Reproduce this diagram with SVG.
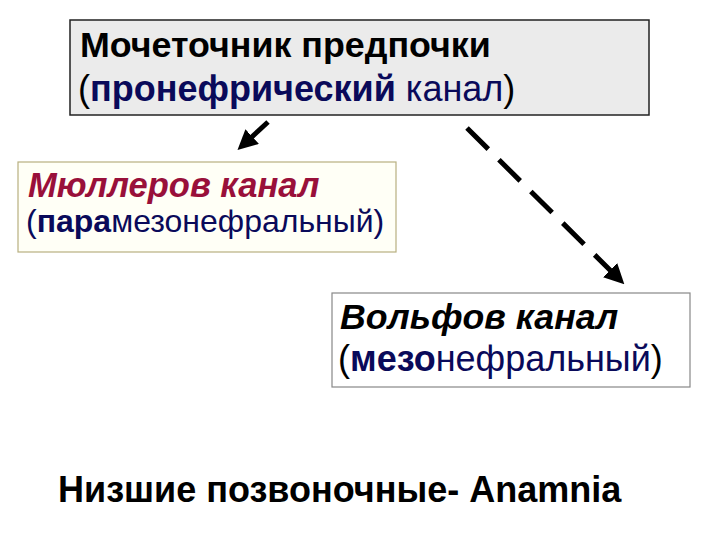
<svg xmlns="http://www.w3.org/2000/svg" width="720" height="540" viewBox="0 0 720 540">
<defs>
<style>
text{font-family:"Liberation Sans",Arial,sans-serif;}
.b{font-weight:bold;}
.bi{font-weight:bold;font-style:italic;}
.navy{fill:#0a0a5a;}
.line{stroke:#000;stroke-width:5;fill:none;}
</style>
<marker id="ah" markerWidth="4" markerHeight="4" refX="2.5" refY="2" orient="auto" markerUnits="strokeWidth">
<path d="M0,0 L4,2 L0,4 z" fill="#000"/>
</marker>
</defs>
<rect width="720" height="540" fill="#fff"/>
<g id="node-pronephros">
<rect x="70" y="20" width="579" height="95" fill="#ebebeb" stroke="#222" stroke-width="1.5"/>
<text x="80" y="57" font-size="35.8" class="b" fill="#000">Мочеточник предпочки</text>
<text x="78" y="101" font-size="36"><tspan fill="#000">(</tspan><tspan class="b navy">пронефрический</tspan><tspan class="navy"> канал</tspan><tspan fill="#000">)</tspan></text>
</g>
<g id="node-muller">
<rect x="18" y="162" width="378" height="90" fill="#fffff6" stroke="#b8b080" stroke-width="1.2"/>
<text x="28" y="197" fill="#99103a" class="bi" font-size="34.5">Мюллеров канал</text>
<text x="26" y="232" font-size="32" class="navy"><tspan>(</tspan><tspan class="b">пара</tspan><tspan>мезонефральный)</tspan></text>
</g>
<g id="node-wolff">
<rect x="332" y="293" width="358" height="94" fill="#fff" stroke="#888" stroke-width="1.2"/>
<text x="340" y="329" font-size="35.7" class="bi" fill="#000">Вольфов канал</text>
<text x="338" y="371" font-size="36" class="navy"><tspan fill="#000">(</tspan><tspan class="b">мезо</tspan><tspan>нефральный</tspan><tspan fill="#000">)</tspan></text>
</g>
<g id="label-anamnia">
<text x="58" y="502" font-size="36" class="b" fill="#000">Низшие позвоночные- Anamnia</text>
</g>
<g id="connectors">
<line class="line" x1="268" y1="122" x2="243" y2="145" marker-end="url(#ah)"/>
<line class="line" x1="467" y1="128" x2="619" y2="279" stroke-dasharray="30 15" marker-end="url(#ah)"/>
</g>
</svg>
